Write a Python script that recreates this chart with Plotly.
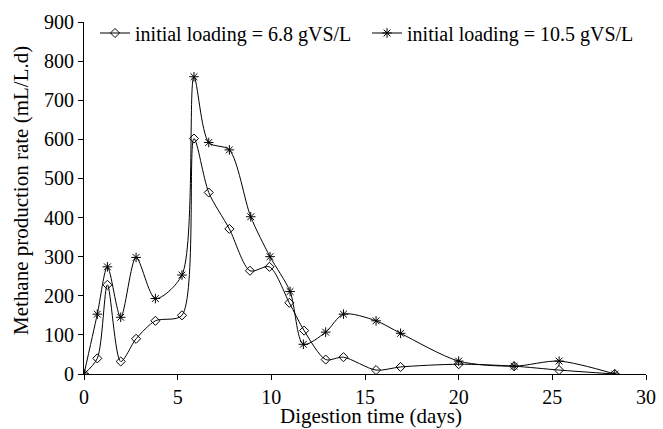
import plotly.graph_objects as go

days_a = [0, 0.71, 1.25, 1.96, 2.78, 3.81, 5.23, 5.87, 6.66, 7.76, 8.86, 9.9, 10.96, 11.75, 12.9, 13.85, 15.59, 16.9, 20.0, 22.96, 25.36, 28.33]
rate_a = [0, 40, 228, 32, 90, 136, 150, 602, 464, 371, 264, 274, 182, 111, 37, 43, 10, 18, 25, 20, 10, 0]

days_b = [0, 0.71, 1.25, 1.96, 2.78, 3.81, 5.23, 5.87, 6.66, 7.76, 8.9, 9.93, 11.0, 11.71, 12.9, 13.85, 15.59, 16.9, 20.0, 22.96, 25.36, 28.33]
rate_b = [0, 153, 274, 145, 298, 193, 253, 760, 592, 573, 402, 300, 211, 76, 107, 153, 136, 104, 33, 20, 33, 0]

name_a = "initial loading = 6.8 gVS/L"
name_b = "initial loading = 10.5 gVS/L"
x_title = "Digestion time (days)"
y_title = "Methane production rate (mL/L.d)"

FONT = "Liberation Serif, Times New Roman, serif"

fig = go.Figure()
fig.add_trace(go.Scatter(
    x=days_a, y=rate_a, name=name_a, mode="lines+markers", legend="legend",
    line=dict(color="black", width=1, shape="spline", smoothing=0.8),
    marker=dict(symbol="diamond-open", size=7, color="black", line=dict(width=1))
))
fig.add_trace(go.Scatter(
    x=days_b, y=rate_b, name=name_b, mode="lines+markers", legend="legend2",
    line=dict(color="black", width=1, shape="spline", smoothing=0.8),
    marker=dict(symbol="asterisk-open", size=8, color="black", line=dict(width=1, color="black"))
))

H_PLOT = 429 - 55  # paper height (margin t=0)
leg_common = dict(orientation="h", xanchor="left", yanchor="middle",
                  font=dict(family=FONT, size=20), bgcolor="rgba(0,0,0,0)",
                  itemwidth=30)
fig.update_layout(
    width=663, height=429,
    margin=dict(l=84, r=17, t=0, b=55),
    paper_bgcolor="white", plot_bgcolor="white",
    font=dict(family=FONT, size=20, color="black"),
    legend=dict(x=0.0196, y=(H_PLOT - 33) / H_PLOT, **leg_common),
    legend2=dict(x=0.5036, y=(H_PLOT - 33) / H_PLOT, **leg_common),
    showlegend=True,
    annotations=[
        dict(text=x_title, xref="paper", yref="paper", x=0.5107, y=-42 / H_PLOT,
             xanchor="center", yanchor="middle", showarrow=False,
             font=dict(family=FONT, size=21)),
        dict(text=y_title, xref="paper", yref="paper", x=(21 - 84) / 562, y=(H_PLOT - 191) / H_PLOT,
             xanchor="center", yanchor="middle", showarrow=False, textangle=-90,
             font=dict(family=FONT, size=21)),
    ],
)
fig.update_xaxes(
    range=[0, 30], tickvals=[0, 5, 10, 15, 20, 25, 30],
    showline=True, linecolor="black", linewidth=1, mirror=False, automargin=False,
    ticks="outside", ticklen=5, tickcolor="black", showgrid=False, zeroline=False,
    tickfont=dict(family=FONT, size=20),
)
fig.update_yaxes(
    range=[0, 900], tickvals=list(range(0, 1000, 100)), domain=[0, 352 / H_PLOT],
    showline=True, linecolor="black", linewidth=1, mirror=False, automargin=False,
    ticks="outside", ticklen=5, tickcolor="black", showgrid=False, zeroline=False,
    tickfont=dict(family=FONT, size=20),
)

fig.write_html("out.html", config={"displayModeBar": False},
               post_script="document.body.style.margin='0';")
